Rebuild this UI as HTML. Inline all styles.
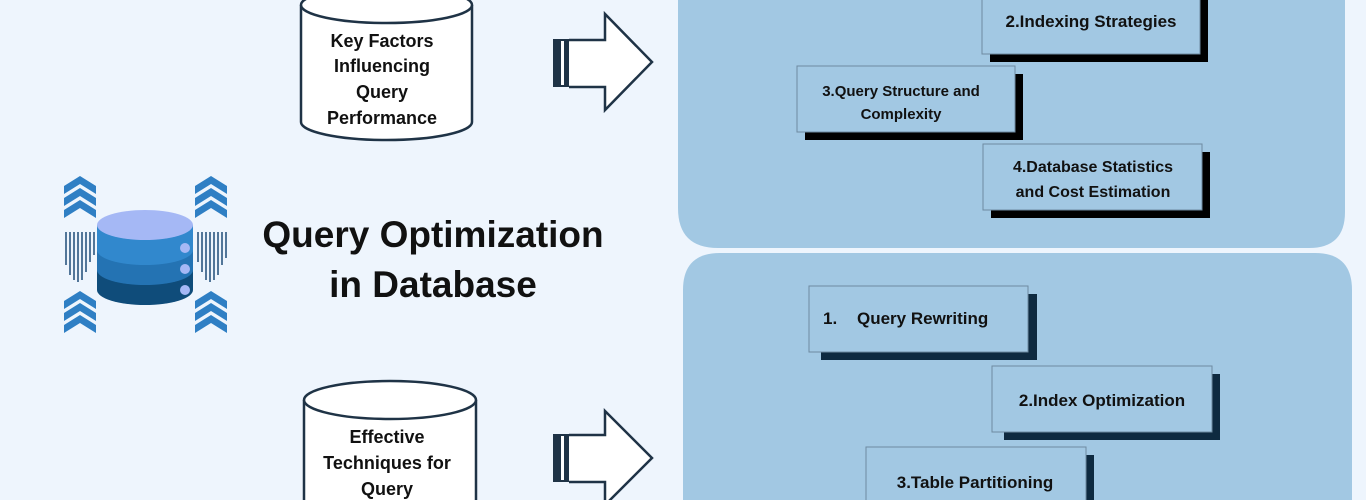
<!DOCTYPE html>
<html><head><meta charset="utf-8"><style>
html,body{margin:0;padding:0;width:1366px;height:500px;overflow:hidden;background:#eef5fd;}
svg text{font-family:"Liberation Sans",sans-serif;font-weight:bold;fill:#111;}
</style></head><body>
<svg width="1366" height="500" viewBox="0 0 1366 500" xmlns="http://www.w3.org/2000/svg">
<rect width="1366" height="500" fill="#eef5fd"/>
<path d="M678,-20 H1345 V212 Q1345,248 1309,248 H718 Q678,248 678,208 Z" fill="#a2c8e3"/>
<path d="M683,290 Q683,253 720,253 H1315 Q1352,253 1352,290 V520 H683 Z" fill="#a2c8e3"/>
<g stroke="#6e8aa0" stroke-width="1">
<rect x="990" y="-10" width="218" height="72" fill="#000" stroke="none"/>
<rect x="982" y="-18" width="218" height="72" fill="#a2c8e3"/>
<rect x="805" y="74" width="218" height="66" fill="#000" stroke="none"/>
<rect x="797" y="66" width="218" height="66" fill="#a2c8e3"/>
<rect x="991" y="152" width="219" height="66" fill="#000" stroke="none"/>
<rect x="983" y="144" width="219" height="66" fill="#a2c8e3"/>
<rect x="821" y="294" width="216" height="66" fill="#0e2a40" stroke="none"/>
<rect x="809" y="286" width="219" height="66" fill="#a2c8e3"/>
<rect x="1004" y="374" width="216" height="66" fill="#0e2a40" stroke="none"/>
<rect x="992" y="366" width="220" height="66" fill="#a2c8e3"/>
<rect x="878" y="455" width="216" height="66" fill="#0e2a40" stroke="none"/>
<rect x="866" y="447" width="220" height="66" fill="#a2c8e3"/>
</g>
<text x="1091" y="27" font-size="17" text-anchor="middle">2.Indexing Strategies</text>
<text x="901" y="96" font-size="15" text-anchor="middle">3.Query Structure and</text>
<text x="901" y="119" font-size="15" text-anchor="middle">Complexity</text>
<text x="1093" y="172" font-size="16" text-anchor="middle">4.Database Statistics</text>
<text x="1093" y="197" font-size="16" text-anchor="middle">and Cost Estimation</text>
<text x="823" y="324" font-size="17">1.</text>
<text x="857" y="324" font-size="17">Query Rewriting</text>
<text x="1102" y="406" font-size="17" text-anchor="middle">2.Index Optimization</text>
<text x="975" y="488" font-size="17" text-anchor="middle">3.Table Partitioning</text>
<g fill="#fff" stroke="#1f3346" stroke-width="2.5">
<path d="M301,5 V122 A85.5,18 0 0 0 472,122 V5"/>
<ellipse cx="386.5" cy="5" rx="85.5" ry="18"/>
<path d="M304,400 V520 H476 V400"/>
<ellipse cx="390" cy="400" rx="86" ry="19"/>
</g>
<g font-size="18" text-anchor="middle">
<text x="382" y="47">Key Factors</text>
<text x="382" y="72">Influencing</text>
<text x="382" y="98">Query</text>
<text x="382" y="124">Performance</text>
<text x="387" y="443">Effective</text>
<text x="387" y="469">Techniques for</text>
<text x="387" y="495">Query</text>
</g>
<g>
<rect x="553" y="39" width="16" height="48" fill="#1f3346"/>
<rect x="561" y="41" width="3" height="44" fill="#fff"/>
<path d="M569,40 H605 V14 L652,62 L605,110 V87 H569" fill="#fff" stroke="#1f3346" stroke-width="2.5"/>
<rect x="553" y="434" width="16" height="48" fill="#1f3346"/>
<rect x="561" y="436" width="3" height="44" fill="#fff"/>
<path d="M569,435 H605 V411 L652,458 L605,505 V482 H569" fill="#fff" stroke="#1f3346" stroke-width="2.5"/>
</g>
<text x="433" y="247" font-size="37" text-anchor="middle">Query Optimization</text>
<text x="433" y="297" font-size="37" text-anchor="middle">in Database</text>
<g fill="#2f7fc4">
<path d="M64,186 L80,176 L96,186 V194 L80,184 L64,194 Z"/>
<path d="M64,198 L80,188 L96,198 V206 L80,196 L64,206 Z"/>
<path d="M64,210 L80,200 L96,210 V218 L80,208 L64,218 Z"/>
<path d="M195,186 L211,176 L227,186 V194 L211,184 L195,194 Z"/>
<path d="M195,198 L211,188 L227,198 V206 L211,196 L195,206 Z"/>
<path d="M195,210 L211,200 L227,210 V218 L211,208 L195,218 Z"/>
<path d="M64,301 L80,291 L96,301 V309 L80,299 L64,309 Z"/>
<path d="M64,313 L80,303 L96,313 V321 L80,311 L64,321 Z"/>
<path d="M64,325 L80,315 L96,325 V333 L80,323 L64,333 Z"/>
<path d="M195,301 L211,291 L227,301 V309 L211,299 L195,309 Z"/>
<path d="M195,313 L211,303 L227,313 V321 L211,311 L195,321 Z"/>
<path d="M195,325 L211,315 L227,325 V333 L211,323 L195,333 Z"/>
</g>
<g stroke="#1f4d78" stroke-width="1.5">
<path d="M66,232 V265 M70,232 V275 M74,232 V280 M78,232 V282 M82,232 V280 M86,232 V272 M90,232 V262 M94,232 V255"/>
<path d="M198,232 V262 M202,232 V272 M206,232 V280 M210,232 V282 M214,232 V280 M218,232 V275 M222,232 V265 M226,232 V258"/>
</g>
<path d="M97,225 V290 A48,15 0 0 0 193,290 V225 Z" fill="#0f4c7a"/>
<path d="M97,225 V270 A48,15 0 0 0 193,270 V225 Z" fill="#2473b3"/>
<path d="M97,225 V250 A48,15 0 0 0 193,250 V225 Z" fill="#3188cd"/>
<ellipse cx="145" cy="225" rx="48" ry="15" fill="#a5b8f5"/>
<g fill="#a5b8f5"><circle cx="185" cy="248" r="5"/><circle cx="185" cy="269" r="5"/><circle cx="185" cy="290" r="5"/></g>
</svg>
</body></html>
